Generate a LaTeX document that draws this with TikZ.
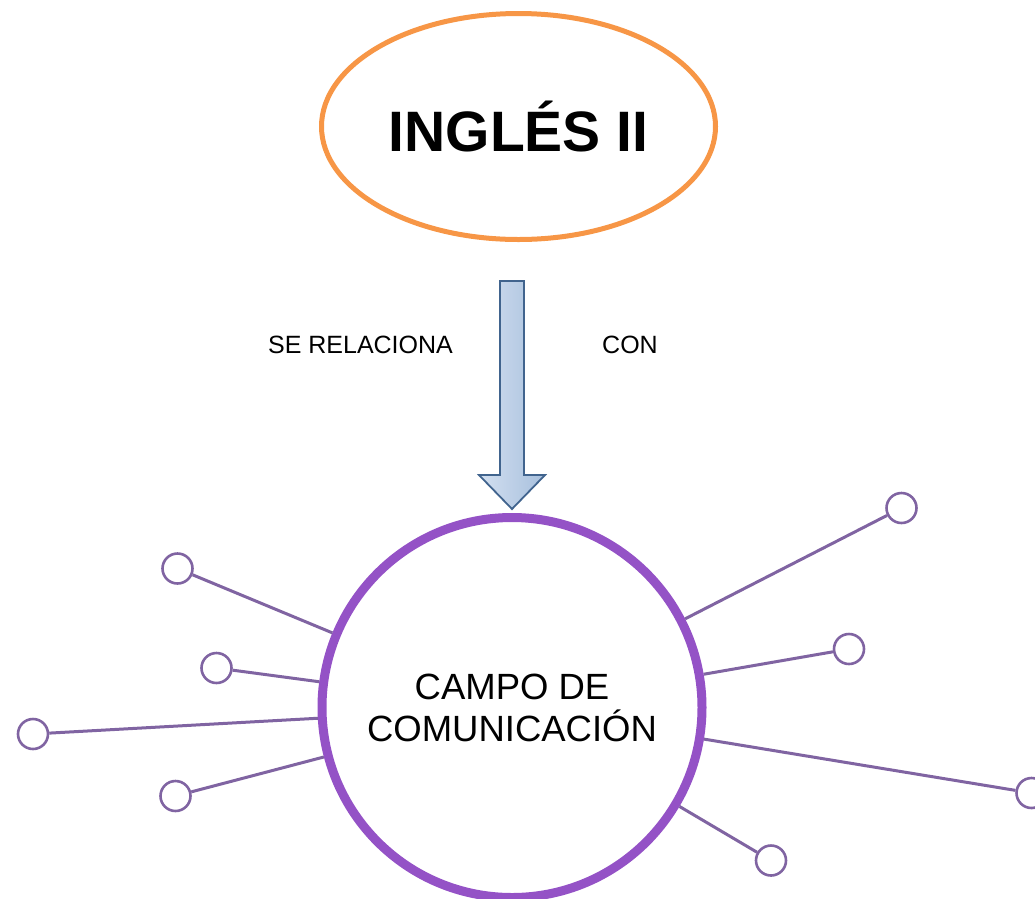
\documentclass[tikz,border=0pt]{standalone}
\usepackage{fontspec}
\setmainfont{Liberation Sans}
\usetikzlibrary{shapes.geometric}
\definecolor{orangeline}{HTML}{F79646}
\definecolor{bigpurple}{HTML}{9452C6}
\definecolor{spokepurple}{HTML}{8064A2}
\definecolor{arrowborder}{HTML}{41648E}
\definecolor{arrowlight}{HTML}{D3E0F0}
\definecolor{arrowdark}{HTML}{A7BFDD}
\tikzset{
  titleellipse/.style={ellipse, draw=orangeline, line width=5pt, minimum width=394pt, minimum height=226pt, inner sep=0pt, font=\fontsize{57}{66}\selectfont\bfseries},
  bigcircle/.style={circle, draw=bigpurple, line width=9pt, minimum size=380pt, inner sep=0pt, align=center, font=\fontsize{36.5}{42}\selectfont},
  leaf/.style={circle, draw=spokepurple, line width=2.6pt, minimum size=30pt, inner sep=0pt, fill=white},
  spoke/.style={draw=spokepurple, line width=3pt},
  label/.style={font=\fontsize{25}{30}\selectfont, inner sep=0pt},
}
\begin{document}
\begin{tikzpicture}[x=1pt, y=-1pt]
\useasboundingbox (0,0) rectangle (1035,898);
\node[titleellipse] (title) at (518.5,126.5) {INGLÉS II};
% block arrow
\path[draw=arrowborder, line width=1.8pt, line join=miter, left color=arrowlight, right color=arrowdark]
  (500,281) -- (524,281) -- (524,475) -- (545,475) -- (512,509) -- (479,475) -- (500,475) -- cycle;
\node[label] (rel) at (360.5,345) {SE RELACIONA};
\node[label] (con) at (630,345) {CON};
% leaves
\node[leaf] (l1) at (177.5,568.5) {};
\node[leaf] (l2) at (216.5,668) {};
\node[leaf] (l3) at (33,734) {};
\node[leaf] (l4) at (175.5,796) {};
\node[leaf] (r1) at (901.5,508) {};
\node[leaf] (r2) at (849,649) {};
\node[leaf] (r3) at (1031.5,793) {};
\node[leaf] (r4) at (771,860.5) {};
\node[bigcircle] (campo) at (512,707.5) {CAMPO DE\\COMUNICACIÓN};
\foreach \n in {l1,l2,l3,l4,r1,r2,r3,r4}{
  \draw[spoke] (\n) -- (campo);
}
\end{tikzpicture}
\end{document}
